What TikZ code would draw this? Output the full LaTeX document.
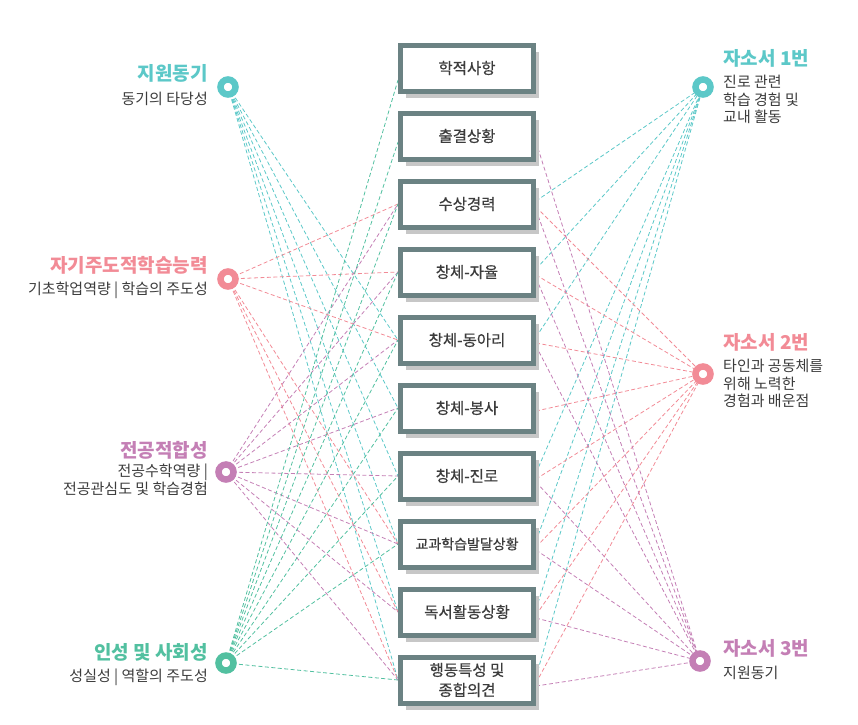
\documentclass[tikz,border=0pt]{standalone}
\usepackage{fontspec}
\setmainfont{Noto Sans CJK KR}
\newfontfamily\boxfont[FakeBold=0.6]{Noto Sans CJK KR}
\usetikzlibrary{shadows}
\pgfdeclarelayer{bg}
\pgfsetlayers{bg,main}
\definecolor{cteal}{HTML}{5CC8C8}
\definecolor{cpink}{HTML}{F28B96}
\definecolor{cpurp}{HTML}{C47FB5}
\definecolor{cgreen}{HTML}{52C0A0}
\definecolor{boxc}{HTML}{6B8283}
\definecolor{txt}{HTML}{3C3C3C}
\begin{document}
\begin{tikzpicture}[x=1pt,y=-1pt,
  dot/.style={circle, draw=#1, line width=6.5pt, fill=white, minimum size=15pt, inner sep=0pt},
  item/.style={draw=boxc, line width=5pt, fill=white, minimum width=133pt, minimum height=46pt,
    inner sep=0pt, align=center, text=txt, font=\boxfont\fontsize{15.5}{20}\selectfont,
    drop shadow={shadow xshift=5pt, shadow yshift=-7pt, fill=black!22, opacity=1}},
  lk/.style={draw=#1, dash pattern=on 4pt off 2.5pt, line width=0.8pt},
  ttl/.style={text=#1, font=\fontsize{19}{21}\selectfont\bfseries, inner sep=0pt},
  sub/.style={text=txt, font=\fontsize{15}{17.5}\selectfont, inner sep=0pt}]
\useasboundingbox (0,0) rectangle (858,724);

% boxes
\node[item] (b1) at (467,68) {학적사항};
\node[item] (b2) at (467,136) {출결상황};
\node[item] (b3) at (467,204) {수상경력};
\node[item] (b4) at (467,272) {창체-자율};
\node[item] (b5) at (467,340) {창체-동아리};
\node[item] (b6) at (467,408) {창체-봉사};
\node[item] (b7) at (467,476) {창체-진로};
\node[item, font=\boxfont\fontsize{14}{18}\selectfont] (b8) at (467,544) {교과학습발달상황};
\node[item] (b9) at (467,612) {독서활동상황};
\node[item] (b10) at (467,680) {행동특성 및\\종합의견};

% circles
\node[dot=cteal] (l1) at (228,87) {};
\node[dot=cpink] (l2) at (228,279) {};
\node[dot=cpurp] (l3) at (226,472) {};
\node[dot=cgreen] (l4) at (226,663) {};
\node[dot=cteal] (r1) at (703,87) {};
\node[dot=cpink] (r2) at (703,374) {};
\node[dot=cpurp] (r3) at (700,661) {};

% left labels
\node[ttl=cteal, anchor=east] (t1) at (208,73) {지원동기};
\node[sub, anchor=east] (s1) at (208,99) {동기의 타당성};
\node[ttl=cpink, anchor=east] (t2) at (208,265) {자기주도적학습능력};
\node[sub, anchor=east] (s2) at (208,290) {기초학업역량 | 학습의 주도성};
\node[ttl=cpurp, anchor=east] (t3) at (208,450) {전공적합성};
\node[sub, anchor=north east, align=right] (s3) at (208,464) {전공수학역량 |\\전공관심도 및 학습경험};
\node[ttl=cgreen, anchor=east] (t4) at (208,652) {인성 및 사회성};
\node[sub, anchor=east] (s4) at (208,677) {성실성 | 역할의 주도성};

% right labels
\node[ttl=cteal, anchor=west] (u1) at (723,58) {자소서 1번};
\node[sub, anchor=north west, align=left] (v1) at (723,75) {진로 관련\\학습 경험 및\\교내 활동};
\node[ttl=cpink, anchor=west] (u2) at (723,342) {자소서 2번};
\node[sub, anchor=north west, align=left] (v2) at (723,359) {타인과 공동체를\\위해 노력한\\경험과 배운점};
\node[ttl=cpurp, anchor=west] (u3) at (723,648) {자소서 3번};
\node[sub, anchor=west] (v3) at (723,673) {지원동기};

% connectors
\begin{pgfonlayer}{bg}
\foreach \b in {5,...,10} \draw[lk=cteal] (l1.center) -- (b\b.west);
\foreach \b in {3,4,5,8,9,10} \draw[lk=cpink] (l2.center) -- (b\b.west);
\foreach \b in {3,...,10} \draw[lk=cpurp] (l3.center) -- (b\b.west);
\draw[lk=cgreen] (l4.center) -- ([yshift=-12pt]b1.west);
\draw[lk=cgreen] (l4.center) -- ([yshift=-6pt]b2.west);
\foreach \b in {3,4,5,6,7,8,10} \draw[lk=cgreen] (l4.center) -- (b\b.west);
\foreach \b in {3,4,5,7,8,9,10} \draw[lk=cteal] ([yshift=3pt]b\b.east) -- (r1.center);
\foreach \b in {3,...,10} \draw[lk=cpink] ([yshift=-3pt]b\b.east) -- (r2.center);
\foreach \b in {2,3,4,5,7,8,9,10} \draw[lk=cpurp] ([yshift=-6pt]b\b.east) -- (r3.center);
\end{pgfonlayer}
\end{tikzpicture}
\end{document}
